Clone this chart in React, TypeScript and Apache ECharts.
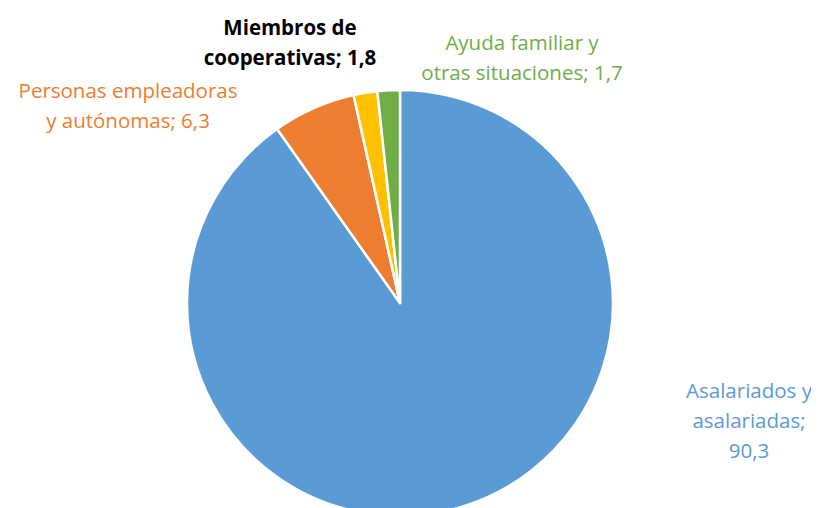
import React, { useEffect, useRef } from "react";
import * as echarts from "echarts";

const categories = [
  "Asalariados y asalariadas",
  "Personas empleadoras y autónomas",
  "Miembros de cooperativas",
  "Ayuda familiar y otras situaciones",
];
const values = [90.3, 6.3, 1.8, 1.7];
const labelTexts = [
  "Asalariados y\nasalariadas;\n90,3",
  "Personas empleadoras\ny autónomas; 6,3",
  "Miembros de\ncooperativas; 1,8",
  "Ayuda familiar y\notras situaciones; 1,7",
];

const colors = ["#5B9BD5", "#ED7D31", "#FFC000", "#70AD47"];
const labelColors = ["#5B9BD5", "#ED7D31", "#000000", "#70AD47"];
const labelWeights = ["normal", "normal", "bold", "normal"];
const labelCenters: [number, number][] = [
  [749, 420],
  [128, 105],
  [290, 42],
  [522, 57],
];

export default function App() {
  const ref = useRef<HTMLDivElement>(null);
  useEffect(() => {
    if (!ref.current) return;
    const chart = echarts.init(ref.current, undefined, { renderer: "svg" });
    const fontFamily = "'Open Sans', 'Noto Sans', sans-serif";
    chart.setOption({
      animation: false,
      backgroundColor: "#ffffff",
      series: [
        {
          type: "pie",
          center: [392, 295],
          radius: [0, 213],
          startAngle: 90,
          clockwise: true,
          avoidLabelOverlap: false,
          itemStyle: { borderColor: "#ffffff", borderWidth: 2.5 },
          labelLine: { show: false },
          data: categories.map((name, i) => ({
            name,
            value: values[i],
            itemStyle: { color: colors[i] },
            label: {
              show: true,
              position: "outside",
              formatter: labelTexts[i],
              color: labelColors[i],
              fontWeight: labelWeights[i],
              fontSize: 20.5,
              lineHeight: 30,
              fontFamily,
              align: "center",
            },
          })),
          labelLayout: (params: any) => {
            const i = params.dataIndex;
            return {
              x: labelCenters[i][0] - 8,
              y: labelCenters[i][1] - 8,
              align: "center",
              verticalAlign: "middle",
            };
          },
        },
      ],
    });
    return () => chart.dispose();
  }, []);
  return <div ref={ref} style={{ width: 803, height: 500 }} />;
}
